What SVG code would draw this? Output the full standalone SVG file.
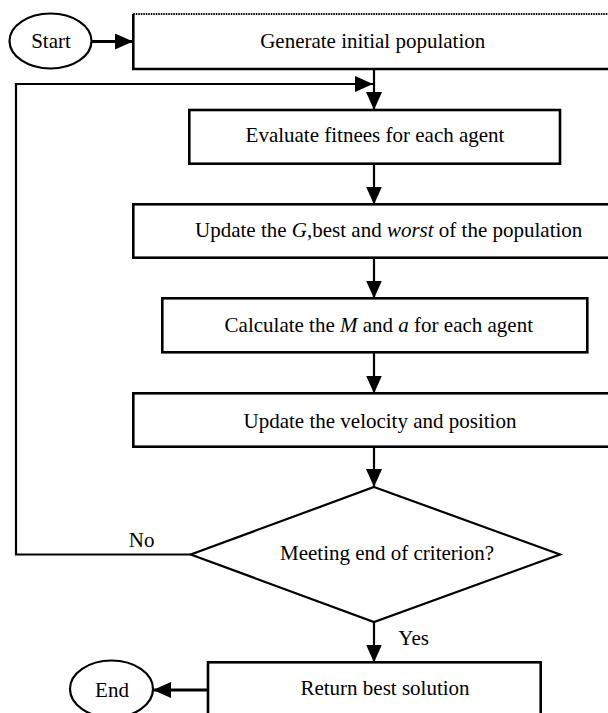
<svg xmlns="http://www.w3.org/2000/svg" width="608" height="713" viewBox="0 0 608 713">
<style>
.box{fill:#fff;stroke:#000;stroke-width:2.6}
.term{fill:#fff;stroke:#000;stroke-width:2.2}
.lbl{font-family:"Liberation Serif","Times New Roman",serif;font-size:21px;fill:#000;text-anchor:middle}
.it{font-style:italic}
.ln{fill:none;stroke:#000;stroke-width:2.2}
</style>
<defs>
<marker id="ah" viewBox="0 0 18 16" refX="18" refY="8" markerWidth="18" markerHeight="16" markerUnits="userSpaceOnUse" orient="auto">
<path d="M0,0 L18,8 L0,16 Z" fill="#000"/>
</marker>
</defs>
<rect width="608" height="713" fill="#fff"/>
<g id="connectors">
<line class="ln" x1="91.5" y1="41.5" x2="133" y2="41.5" style="stroke-width:3" marker-end="url(#ah)"/>
<line class="ln" x1="374" y1="69" x2="374" y2="110" marker-end="url(#ah)"/>
<polyline class="ln" points="190.7,554.5 16,554.5 16,84 373,84" marker-end="url(#ah)"/>
<line class="ln" x1="374" y1="164" x2="374" y2="204.5" marker-end="url(#ah)"/>
<line class="ln" x1="374" y1="258" x2="374" y2="298.5" marker-end="url(#ah)"/>
<line class="ln" x1="374" y1="352.5" x2="374" y2="393.5" marker-end="url(#ah)"/>
<line class="ln" x1="374" y1="447" x2="374" y2="487" marker-end="url(#ah)"/>
<line class="ln" x1="374" y1="622" x2="374" y2="662.5" marker-end="url(#ah)"/>
<line class="ln" x1="208" y1="690" x2="153" y2="690" style="stroke-width:3" marker-end="url(#ah)"/>
<text class="lbl" x="141.7" y="546.7">No</text>
<text class="lbl" x="413.6" y="645">Yes</text>
</g>
<g id="start">
<ellipse class="term" cx="50.5" cy="41" rx="41" ry="27.5"/>
<text class="lbl" x="51" y="48.3">Start</text>
</g>
<g id="generate">
<path class="box" d="M614,69 L133.3,69 L133.3,14"/>
<line x1="133.3" y1="14" x2="614" y2="14" stroke="#000" stroke-width="2" stroke-dasharray="1.5 1"/>
<text class="lbl" x="372.7" y="48">Generate initial population</text>
</g>
<g id="evaluate">
<rect class="box" x="189.3" y="110" width="370.7" height="53.7"/>
<text class="lbl" x="375" y="142.3">Evaluate fitnees for each agent</text>
</g>
<g id="update-g">
<rect class="box" x="133.3" y="204.3" width="480" height="53.4"/>
<text class="lbl" x="388.7" y="236.7">Update the <tspan class="it">G</tspan>,best and <tspan class="it">worst</tspan> of the population</text>
</g>
<g id="calculate">
<rect class="box" x="162.3" y="298.3" width="425" height="54"/>
<text class="lbl" x="378.8" y="332.3">Calculate the <tspan class="it">M</tspan> and <tspan class="it">a</tspan> for each agent</text>
</g>
<g id="update-v">
<rect class="box" x="133.3" y="393.3" width="480" height="53.4"/>
<text class="lbl" x="380" y="428.3">Update the velocity and position</text>
</g>
<g id="decision">
<polygon class="term" points="374,487 560,554.5 374,622 190.7,554.5"/>
<text class="lbl" x="387" y="560">Meeting end of criterion?</text>
</g>
<g id="return">
<rect class="box" x="208" y="662.3" width="332.7" height="60"/>
<text class="lbl" x="385" y="695">Return best solution</text>
</g>
<g id="end">
<ellipse class="term" cx="111.5" cy="689" rx="41.5" ry="28.5"/>
<text class="lbl" x="112" y="696.7">End</text>
</g>
</svg>
